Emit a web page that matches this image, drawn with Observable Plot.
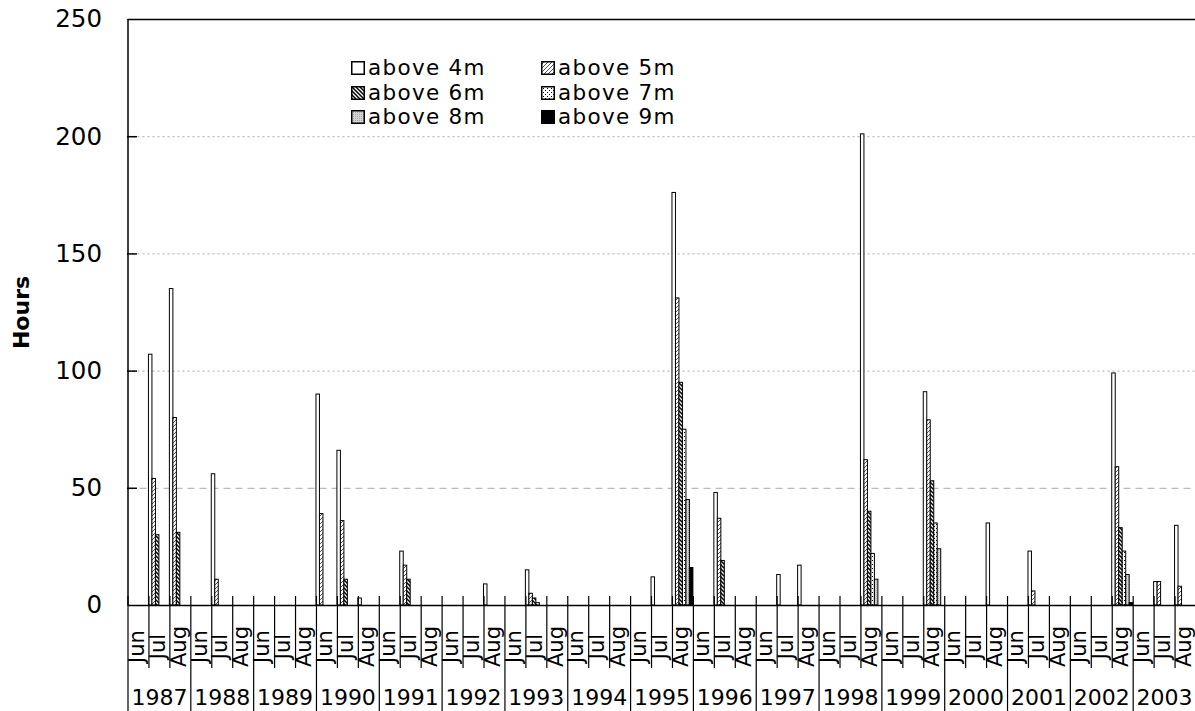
<!DOCTYPE html>
<html><head><meta charset="utf-8">
<script src="https://cdn.jsdelivr.net/npm/d3@7"></script>
<script src="https://cdn.jsdelivr.net/npm/@observablehq/plot@0.6"></script>
<style>
body{margin:0;background:#fff;overflow:hidden;}
#wrap{position:relative;width:1195px;height:711px;overflow:hidden;}
#legend{position:absolute;left:351px;top:56px;display:grid;grid-template-columns:190px auto;font-family:"DejaVu Sans";font-size:21.5px;letter-spacing:1.3px;line-height:24.5px;color:#000;}
.item{display:flex;align-items:center;white-space:nowrap;height:24.5px;}
.item svg{width:14px;height:14px;margin-right:3px;flex:none;}
.item span{display:inline-block;height:24.5px;line-height:24.5px;overflow:visible;}
</style></head><body><div id="wrap"><div id="legend"></div></div>
<script>
const years = [1987,1988,1989,1990,1991,1992,1993,1994,1995,1996,1997,1998,1999,2000,2001,2002,2003];
const months = ["Jun","Jul","Aug"];
const seriesNames = ["above 4m","above 5m","above 6m","above 7m","above 8m","above 9m"];
const yTicks = [0,50,100,150,200,250];
// hours per slot, year by year (Jun, Jul, Aug)
const above4m = [0,107,135, 0,56,0, 0,0,0, 90,66,3, 0,23,0, 0,0,9, 0,15,0, 0,0,0, 0,12,176, 0,48,0, 0,13,17, 0,0,201, 0,0,91, 0,0,35, 0,23,0, 0,0,99, 0,10,34];
const above5m = [0,54,80, 0,11,0, 0,0,0, 39,36,0, 0,17,0, 0,0,0, 0,5,0, 0,0,0, 0,0,131, 0,37,0, 0,0,0, 0,0,62, 0,0,79, 0,0,0, 0,6,0, 0,0,59, 0,10,8];
const above6m = [0,30,31, 0,0,0, 0,0,0, 0,11,0, 0,11,0, 0,0,0, 0,3,0, 0,0,0, 0,0,95, 0,19,0, 0,0,0, 0,0,40, 0,0,53, 0,0,0, 0,0,0, 0,0,33, 0,0,0];
const above7m = [0,0,0, 0,0,0, 0,0,0, 0,0,0, 0,0,0, 0,0,0, 0,1,0, 0,0,0, 0,0,75, 0,0,0, 0,0,0, 0,0,22, 0,0,35, 0,0,0, 0,0,0, 0,0,23, 0,0,0];
const above8m = [0,0,0, 0,0,0, 0,0,0, 0,0,0, 0,0,0, 0,0,0, 0,0,0, 0,0,0, 0,0,45, 0,0,0, 0,0,0, 0,0,11, 0,0,24, 0,0,0, 0,0,0, 0,0,13, 0,0,0];
const above9m = [0,0,0, 0,0,0, 0,0,0, 0,0,0, 0,0,0, 0,0,0, 0,0,0, 0,0,0, 0,0,16, 0,0,0, 0,0,0, 0,0,0, 0,0,0, 0,0,0, 0,0,0, 0,0,1, 0,0,0];

const seriesValues = [above4m, above5m, above6m, above7m, above8m, above9m];
const fills = ["#fff","url(#p5)","url(#p6)","url(#p7)","url(#p8)","#000"];

const nM = months.length, nS = seriesNames.length;
const nSlots = years.length * nM;
const slots = d3.range(nSlots).map(s => ({s, month: months[s % nM], year: years[Math.floor(s / nM)]}));
const table = [];
slots.forEach(({s}) => seriesValues.forEach((vals, k) => {
  if (vals[s] > 0) table.push({s, k, value: vals[s]});
}));
const monthBounds = d3.range(1, nSlots).filter(s => s % nM !== 0);
const yearBounds = d3.range(0, nSlots + 1, nM);

const W = 1195, H = 711;
const chart = Plot.plot({
  width: W, height: H,
  marginTop: 596, marginBottom: 0, marginLeft: 127, marginRight: 0,
  style: {fontFamily: "DejaVu Sans", color: "#000", background: "#fff"},
  x: {type: "linear", domain: [0, nSlots * nS], range: [127.5, 1195.5], axis: null},
  y: {domain: [0, 250], range: [605, 19], axis: null},
  color: {type: "identity"},
  marks: [
    Plot.ruleY([100, 150, 200], {y: d => d, x1: () => 0, x2: () => nSlots * nS, stroke: "#aaa", strokeDasharray: "2,3"}),
    Plot.ruleY([50], {y: d => d, x1: () => 0, x2: () => nSlots * nS, stroke: "#aaa", strokeDasharray: "7,5"}),
    Plot.rect(table, {
      x1: d => d.s * nS + d.k, x2: d => d.s * nS + d.k + 1,
      y1: () => 0, y2: d => d.value,
      fill: d => fills[d.k], stroke: "#000", strokeWidth: 1
    }),
    // frame
    Plot.ruleY([250], {y: d => d, x1: () => 0, x2: () => nSlots * nS, stroke: "#000", strokeWidth: 1.5}),
    Plot.ruleY([0], {y: d => d, x1: () => 0, x2: () => nSlots * nS, stroke: "#000", strokeWidth: 1.5}),
    Plot.ruleX([0], {x: d => d, y1: () => 0, y2: () => 250, stroke: "#000", strokeWidth: 1.5}),
    // inward y ticks
    Plot.tickY([50, 100, 150, 200], {y: d => d, insetRight: W - 127 - 10, stroke: "#000", strokeWidth: 1.5}),
    // category separators
    Plot.tickX(monthBounds, {x: d => d * nS, insetBottom: 43, stroke: "#000", strokeWidth: 1.2}),
    Plot.tickX(yearBounds, {x: d => d * nS, stroke: "#000", strokeWidth: 1.2}),
    // labels
    Plot.text(yTicks, {x: () => 0, y: d => d, dx: -26, text: d => String(d), textAnchor: "end", fontSize: 24.5, fill: "#000"}),
    Plot.text(slots, {x: d => d.s * nS + nS / 2, y: () => 0, dx: -1.5, dy: 41, rotate: -90, text: "month", fontSize: 21, fill: "#000"}),
    Plot.text(years, {x: (d, i) => (i + 0.5) * nM * nS, y: () => 0, dy: 92, text: d => String(d), fontSize: 22, fill: "#000"}),
    Plot.text(["Hours"], {x: () => 0, y: () => 125, dx: -106, rotate: -90, text: d => d, fontSize: 22, fontWeight: "bold", fill: "#000"})
  ]
});

chart.insertAdjacentHTML("afterbegin", `<defs>
<pattern id="p5" width="4" height="4" patternUnits="userSpaceOnUse"><rect width="4" height="4" fill="#fff"/><path d="M-1,1 l2,-2 M0,4 l4,-4 M3,5 l2,-2" stroke="#444" stroke-width="0.9"/></pattern>
<pattern id="p6" width="4" height="4" patternUnits="userSpaceOnUse"><rect width="4" height="4" fill="#fff"/><path d="M-1,3 l2,2 M0,0 l4,4 M3,-1 l2,2" stroke="#000" stroke-width="1.5"/></pattern>
<pattern id="p7" width="4" height="4" patternUnits="userSpaceOnUse"><rect width="4" height="4" fill="#fff"/><rect x="0" y="0" width="1" height="1" fill="#000"/><rect x="2" y="2" width="1" height="1" fill="#000"/></pattern>
<pattern id="p8" width="2" height="2" patternUnits="userSpaceOnUse"><rect width="2" height="2" fill="#d4d4d4"/><rect width="1" height="1" fill="#a8a8a8"/></pattern>
</defs>`);
document.getElementById("wrap").prepend(chart);

const legend = document.getElementById("legend");
seriesNames.forEach((name, k) => {
  const div = document.createElement("div");
  div.className = "item";
  div.innerHTML = `<svg viewBox="0 0 14 14"><rect x="0.75" y="0.75" width="12.5" height="12.5" fill="${fills[k]}" stroke="#000" stroke-width="1.5"/></svg><span>${name}</span>`;
  legend.appendChild(div);
});
</script></body></html>
